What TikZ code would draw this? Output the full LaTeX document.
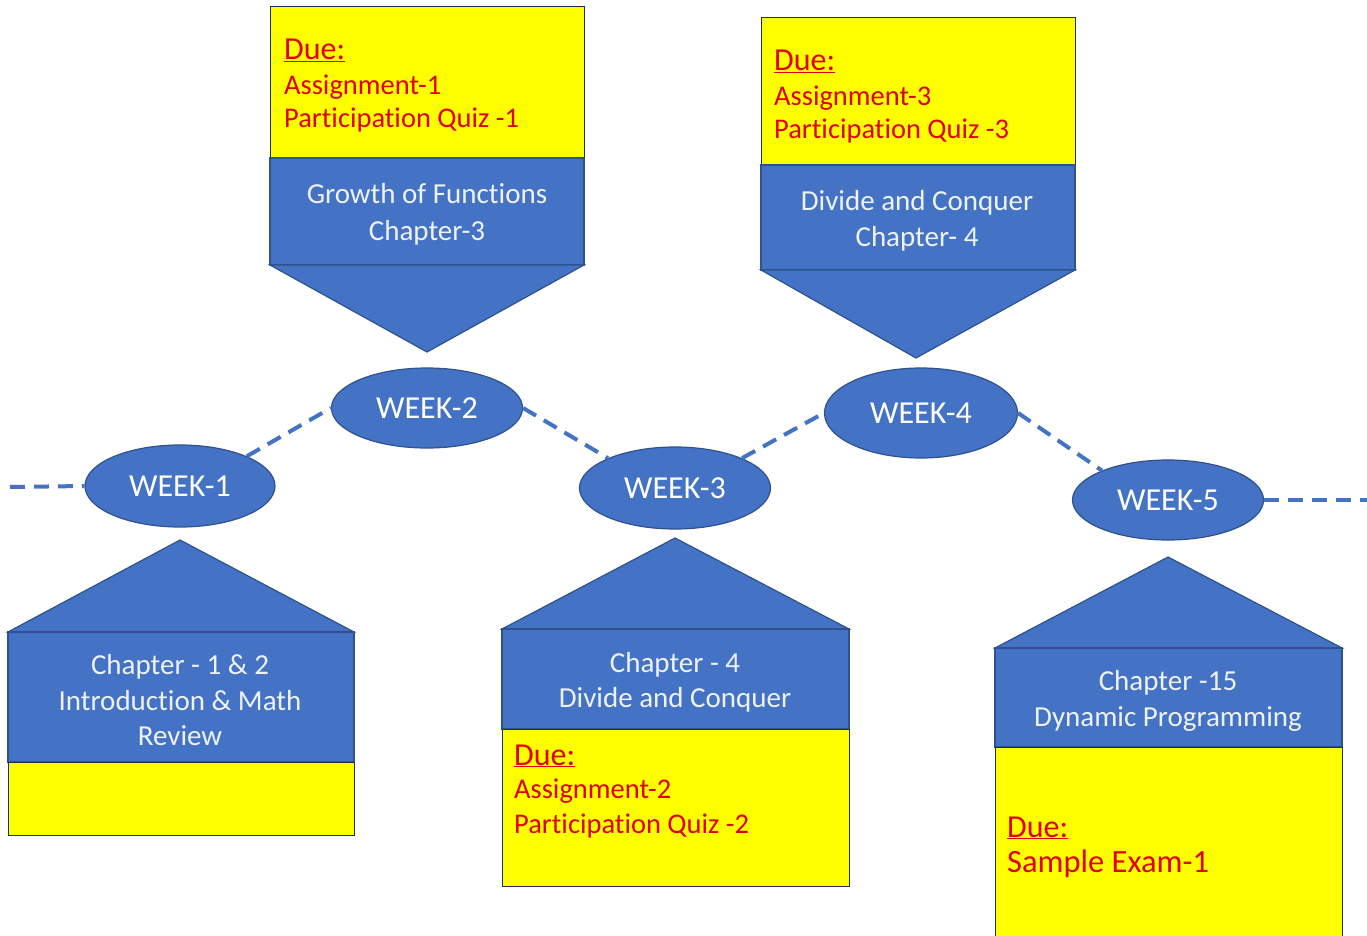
\documentclass[tikz,border=0pt]{standalone}
\usepackage{fontspec}
\setmainfont{Carlito}[Ligatures=NoCommon]
\usetikzlibrary{shapes.geometric}
\definecolor{bblue}{HTML}{4472C4}
\definecolor{bedge}{HTML}{2F528F}
\definecolor{yel}{HTML}{FFFF00}
\definecolor{redt}{HTML}{E00000}
\definecolor{wtxt}{HTML}{EEF2FA}
\begin{document}
\begin{tikzpicture}[x=1pt,y=-1pt,
  bluepart/.style={fill=bblue,draw=bedge,line width=1.2pt},
  yelpart/.style={fill=yel,draw=bedge!60!black,line width=1pt},
  week/.style={ellipse,fill=bblue,draw=bedge,line width=1.2pt,inner sep=0pt,text=white,font=\fontsize{32}{32}\selectfont},
  link/.style={draw=bblue,line width=4pt,dash pattern=on 15pt off 9pt},
  bluetxt/.style={text=wtxt,font=\fontsize{29}{29}\selectfont,anchor=base,inner sep=0pt},
  duetxt/.style={text=redt,font=\fontsize{32}{32}\selectfont,anchor=base west,inner sep=0pt},
  itemtxt/.style={text=redt,font=\fontsize{28.5}{28.5}\selectfont,anchor=base west,inner sep=0pt},
]
\useasboundingbox (0,0) rectangle (1367,936);
\clip (0,0) rectangle (1367,936);
\fill[white] (0,0) rectangle (1367,936);

% ---- Week 2 callout (top)
\draw[yelpart] (270,7) rectangle (584,158);
\draw[bluepart] (270,158) rectangle (584,265);
\draw[bluepart] (270,265) -- (584,265) -- (427,352) -- cycle;
\node[duetxt] (due2) at (284,60) {\underline{Due:}};
\node[itemtxt] (a2) at (284,95) {Assignment-1};
\node[itemtxt] (q2) at (284,128) {Participation Quiz -1};
\node[bluetxt] (ch2a) at (427,204) {Growth of Functions};
\node[bluetxt] (ch2b) at (427,240) {Chapter-3};

% ---- Week 4 callout (top)
\draw[yelpart] (761,18) rectangle (1075,165);
\draw[bluepart] (761,165) rectangle (1075,270);
\draw[bluepart] (761,270) -- (1075,270) -- (916,358) -- cycle;
\node[duetxt] (due4) at (774,71) {\underline{Due:}};
\node[itemtxt] (a4) at (774,106) {Assignment-3};
\node[itemtxt] (q4) at (774,139) {Participation Quiz -3};
\node[bluetxt] (ch4a) at (917,210) {Divide and Conquer};
\node[bluetxt] (ch4b) at (917,246) {Chapter- 4};

% ---- Week 1 callout (bottom)
\draw[bluepart] (8,632) -- (180,540) -- (354,632) -- cycle;
\draw[bluepart] (8,632) rectangle (354,762);
\draw[yelpart] (8,762) rectangle (354,835);
\node[bluetxt] (ch1a) at (180,674) {Chapter - 1 \& 2};
\node[bluetxt] (ch1b) at (180,710) {Introduction \& Math};
\node[bluetxt] (ch1c) at (180,745) {Review};

% ---- Week 3 callout (bottom)
\draw[bluepart] (502,629) -- (675,538) -- (849,629) -- cycle;
\draw[bluepart] (502,629) rectangle (849,729);
\draw[yelpart] (502,729) rectangle (849,886);
\node[bluetxt] (ch3a) at (675,672) {Chapter - 4};
\node[bluetxt] (ch3b) at (675,707) {Divide and Conquer};
\node[duetxt] (due3) at (514,765) {\underline{Due:}};
\node[itemtxt] (a3) at (514,798) {Assignment-2};
\node[itemtxt] (q3) at (514,833) {Participation Quiz -2};

% ---- Week 5 callout (bottom)
\draw[bluepart] (995,648) -- (1168,557) -- (1342,648) -- cycle;
\draw[bluepart] (995,648) rectangle (1342,747);
\draw[yelpart] (995,747) rectangle (1342,950);
\node[bluetxt] (ch5a) at (1168,690) {Chapter -15};
\node[bluetxt] (ch5b) at (1168,726) {Dynamic Programming};
\node[duetxt] (due5) at (1007,837) {\underline{Due:}};
\node[itemtxt,font=\fontsize{32.5}{32.5}\selectfont] (a5) at (1007,872) {Sample Exam-1};

% ---- Week ellipses
\node[week,minimum width=190pt,minimum height=82pt] (w1) at (180,486) {WEEK-1};
\node[week,minimum width=191pt,minimum height=80pt] (w2) at (427,408) {WEEK-2};
\node[week,minimum width=191pt,minimum height=82pt] (w3) at (675,488) {WEEK-3};
\node[week,minimum width=193pt,minimum height=90pt] (w4) at (921,413) {WEEK-4};
\node[week,minimum width=191pt,minimum height=80pt] (w5) at (1168,500) {WEEK-5};

\coordinate (lend) at (10,487);
\coordinate (rend) at (1367,500);

% ---- Dashed connectors
\draw[link] (lend) -- (w1.west);
\draw[link] (w1.24) -- (w2.west);
\draw[link] (w2.east) -- (w3.156);
\draw[link] (w3.24) -- (w4.west);
\draw[link] (w4.east) -- (w5.156);
\draw[link] (w5.east) -- (rend);
\end{tikzpicture}
\end{document}
